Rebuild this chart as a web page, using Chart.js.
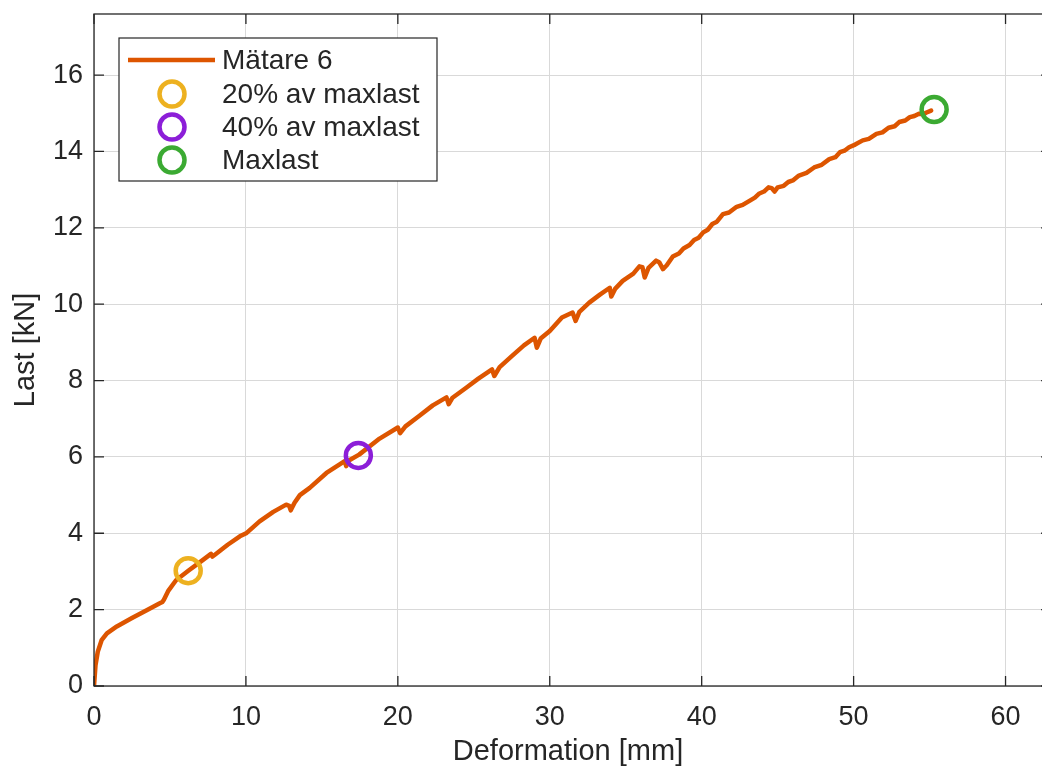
<!DOCTYPE html>
<html>
<head>
<meta charset="utf-8">
<script src="https://cdn.jsdelivr.net/npm/chart.js@4"></script>
<style>
  html, body { margin: 0; padding: 0; background: #fff; }
</style>
</head>
<body>
<canvas id="lastChart" width="1042" height="769"></canvas>
<script>
// Mätare 6: last [kN] mot deformation [mm]
const deformation = [
  0, 0.1, 0.25, 0.5, 0.85, 1.5, 2.5, 3.5, 4.3, 4.5, 4.6, 4.9, 5.4, 6.25, 7.0, 7.7, 7.8, 8.0,
  8.8, 9.6, 10.05, 10.9, 11.8, 12.65, 12.85, 12.95, 13.2, 13.55, 14.2, 15.3, 16.5, 16.6, 16.75,
  17.45, 18.8, 20.0, 20.15, 20.5, 21.4, 22.3, 23.2, 23.35, 23.6, 24.5, 25.3, 26.2, 26.35, 26.7,
  27.5, 28.3, 29.0, 29.15, 29.4, 30.0, 30.8, 31.5, 31.7, 31.95, 32.6, 33.3, 33.95, 34.05, 34.3,
  34.8, 35.5, 35.9, 36.1, 36.25, 36.5, 37.0, 37.2, 37.45, 37.7, 38.1, 38.5, 38.8, 39.2, 39.5,
  39.8, 40.1, 40.4, 40.7, 41.0, 41.4, 41.8, 42.3, 42.7, 43.2, 43.5, 43.8, 44.1, 44.4, 44.6,
  44.8, 45.0, 45.4, 45.7, 46.0, 46.4, 46.9, 47.4, 47.9, 48.4, 48.8, 49.1, 49.4, 49.7, 50.1,
  50.6, 51.0, 51.5, 51.9, 52.3, 52.7, 53.0, 53.4, 53.7, 54.0, 54.3, 54.6, 54.8, 55.1
];
const last = [
  0, 0.55, 0.9, 1.2, 1.38, 1.56, 1.78, 1.99, 2.16, 2.2, 2.26, 2.5, 2.77, 3.03, 3.25, 3.46, 3.39, 3.45,
  3.7, 3.92, 4.01, 4.31, 4.56, 4.75, 4.72, 4.6, 4.8, 5.0, 5.19, 5.58, 5.89, 5.76, 5.9,
  6.06, 6.48, 6.77, 6.62, 6.8, 7.07, 7.35, 7.56, 7.38, 7.55, 7.81, 8.05, 8.29, 8.12, 8.35,
  8.64, 8.92, 9.12, 8.86, 9.1, 9.3, 9.65, 9.78, 9.56, 9.8, 10.04, 10.25, 10.43, 10.2, 10.4,
  10.61, 10.8, 10.99, 10.97, 10.7, 10.95, 11.14, 11.1, 10.92, 11.02, 11.25, 11.33, 11.46, 11.55, 11.68,
  11.74, 11.88, 11.95, 12.1, 12.16, 12.36, 12.4, 12.55, 12.6, 12.72, 12.79, 12.9, 12.95, 13.06, 13.04,
  12.95, 13.06, 13.1, 13.2, 13.24, 13.37, 13.44, 13.58, 13.65, 13.8, 13.85, 13.98, 14.02, 14.11, 14.18,
  14.29, 14.33, 14.46, 14.5, 14.62, 14.66, 14.77, 14.81, 14.9, 14.93, 14.99, 14.98, 15.02, 15.07
];

// markerade punkter
const markLabels = ['20% av maxlast', '40% av maxlast', 'Maxlast'];
const markDeformation = [6.2, 17.4, 55.3];
const markLast = [3.02, 6.04, 15.1];
const markColors = ['#EDB120', '#8C1ED8', '#3BAA32'];

const xTicks = [0, 10, 20, 30, 40, 50, 60];
const yTicks = [0, 2, 4, 6, 8, 10, 12, 14, 16];
const xAxisEnd = 63; // högra axelkanten ligger strax utanför bilden

const textColor = '#262626';
const fontFamily = "'Liberation Sans', Arial, Helvetica, sans-serif";
Chart.defaults.font.family = fontFamily;
Chart.defaults.color = textColor;

const datasets = [
  {
    label: 'Mätare 6',
    data: deformation.map((d, i) => ({ x: d, y: last[i] })),
    showLine: true,
    borderColor: '#DD5500',
    borderWidth: 4.5,
    borderJoinStyle: 'round',
    borderCapStyle: 'round',
    pointRadius: 0,
    tension: 0,
    order: 1,
  },
];
markLabels.forEach((lbl, i) => {
  datasets.push({
    label: lbl,
    data: [{ x: markDeformation[i], y: markLast[i] }],
    showLine: false,
    pointStyle: 'circle',
    pointRadius: 12.5,
    pointBorderWidth: 4.5,
    pointBorderColor: markColors[i],
    pointBackgroundColor: 'rgba(0,0,0,0)',
    borderColor: markColors[i],
    order: 0,
  });
});

// ram, inåtriktade tickmarkeringar och legend (som i MATLAB)
const axesFrame = {
  id: 'axesFrame',
  afterDraw(chart) {
    const { ctx, chartArea: a, scales: { x, y } } = chart;
    const right = x.getPixelForValue(xAxisEnd);
    ctx.save();
    ctx.strokeStyle = textColor;
    ctx.lineWidth = 1.3;
    ctx.strokeRect(a.left, a.top, right - a.left, a.bottom - a.top);
    ctx.beginPath();
    xTicks.forEach(v => {
      const px = x.getPixelForValue(v);
      ctx.moveTo(px, a.bottom); ctx.lineTo(px, a.bottom - 10);
      ctx.moveTo(px, a.top); ctx.lineTo(px, a.top + 10);
    });
    yTicks.forEach(v => {
      const py = y.getPixelForValue(v);
      ctx.moveTo(a.left, py); ctx.lineTo(a.left + 10, py);
      ctx.moveTo(right, py); ctx.lineTo(right - 10, py);
    });
    ctx.stroke();

    // legend
    const lx = 119, ly = 38, lw = 318, lh = 143;
    ctx.fillStyle = '#fff';
    ctx.fillRect(lx, ly, lw, lh);
    ctx.lineWidth = 1.2;
    ctx.strokeStyle = textColor;
    ctx.strokeRect(lx, ly, lw, lh);
    ctx.font = '28px ' + fontFamily;
    ctx.textBaseline = 'middle';
    ctx.textAlign = 'left';
    const rowY = [60, 94, 127, 160];
    chart.data.datasets.forEach((ds, i) => {
      const cy = rowY[i];
      if (i === 0) {
        ctx.strokeStyle = ds.borderColor;
        ctx.lineWidth = 4.5;
        ctx.beginPath();
        ctx.moveTo(128, cy); ctx.lineTo(215, cy);
        ctx.stroke();
      } else {
        ctx.strokeStyle = ds.pointBorderColor;
        ctx.lineWidth = 4.5;
        ctx.beginPath();
        ctx.arc(172, cy, 12.5, 0, Math.PI * 2);
        ctx.stroke();
      }
      ctx.fillStyle = textColor;
      ctx.fillText(ds.label, 222, cy + 1);
    });
    ctx.restore();
  },
};

const noPad = s => {
  s.paddingTop = 0; s.paddingBottom = 0; s.paddingLeft = 0; s.paddingRight = 0;
};

new Chart(document.getElementById('lastChart').getContext('2d'), {
  type: 'scatter',
  data: { datasets },
  options: {
    responsive: false,
    animation: false,
    devicePixelRatio: 1,
    layout: { autoPadding: false, padding: { top: 14, right: 0, left: 0, bottom: 0 } },
    plugins: {
      legend: { display: false },
      tooltip: { enabled: false },
    },
    scales: {
      x: {
        type: 'linear',
        min: 0,
        max: 62.4,
        afterBuildTicks: s => { s.ticks = xTicks.map(v => ({ value: v })); },
        afterFit: s => { s.height = 83; noPad(s); },
        grid: { color: '#d9d9d9', lineWidth: 1, drawTicks: false },
        border: { display: false },
        ticks: { font: { size: 27 }, color: textColor, padding: 15, maxRotation: 0 },
        title: {
          display: true,
          text: 'Deformation [mm]',
          font: { size: 29 },
          color: textColor,
          padding: { top: 2, bottom: 0 },
        },
      },
      y: {
        type: 'linear',
        min: 0,
        max: 17.6,
        afterBuildTicks: s => { s.ticks = yTicks.map(v => ({ value: v })); },
        afterFit: s => { s.width = 94; noPad(s); },
        grid: { color: '#d9d9d9', lineWidth: 1, drawTicks: false },
        border: { display: false },
        ticks: { font: { size: 27 }, color: textColor, padding: 11 },
        title: {
          display: true,
          text: 'Last [kN]',
          font: { size: 29 },
          color: textColor,
          padding: { top: 9, bottom: 0 },
        },
      },
    },
  },
  plugins: [axesFrame],
});
</script>
</body>
</html>
